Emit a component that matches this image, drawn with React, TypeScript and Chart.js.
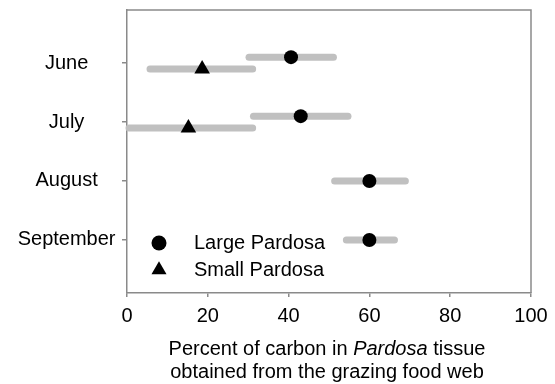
import React, { useEffect, useRef } from 'react';
import { Chart, registerables } from 'chart.js';

Chart.register(...registerables);

// ---- data ----
const MONTHS = ['June', 'July', 'August', 'September'];
const LARGE_MEAN = [40.6, 43.0, 60.0, 60.0];
const LARGE_LOW = [30.2, 31.3, 51.4, 54.3];
const LARGE_HIGH = [51.1, 54.7, 68.9, 66.2];
const SMALL_MEAN: (number | null)[] = [18.6, 15.2, null, null];
const SMALL_LOW: (number | null)[] = [5.7, 0.5, null, null];
const SMALL_HIGH: (number | null)[] = [31.1, 31.1, null, null];
const X_TICKS = [0, 20, 40, 60, 80, 100];
const SERIES_NAMES = ['Large Pardosa', 'Small Pardosa'];

const FONT = "'Liberation Sans', Arial, sans-serif";
const BAR_COLOR = '#c0c0c0';
const FRAME_COLOR = '#8a8a8a';
const OFF = 0.1;

export default function App() {
  const ref = useRef<HTMLCanvasElement>(null);

  useEffect(() => {
    const canvas = ref.current!;
    const largeY = (i: number) => i + 1 + (SMALL_MEAN[i] != null ? -OFF : 0);
    const smallY = (i: number) => i + 1 + OFF;

    const datasets: any[] = [];
    datasets.push({
      label: SERIES_NAMES[0],
      data: LARGE_MEAN.map((v, i) => ({ x: v, y: largeY(i) })),
      pointStyle: 'circle',
      pointRadius: 7,
      pointBorderWidth: 0,
      backgroundColor: '#000',
      borderColor: '#000',
      showLine: false,
      order: 0,
      clip: false,
    });
    const smallPts: any[] = [];
    SMALL_MEAN.forEach((v, i) => {
      if (v != null) smallPts.push({ x: v, y: smallY(i) });
    });
    datasets.push({
      label: SERIES_NAMES[1],
      data: smallPts,
      pointStyle: 'triangle',
      pointRadius: 9,
      pointBorderWidth: 0,
      backgroundColor: '#000',
      borderColor: '#000',
      showLine: false,
      order: 0,
      clip: false,
    });
    LARGE_LOW.forEach((lo, i) => {
      datasets.push({
        label: 'range-large-' + i,
        data: [
          { x: lo, y: largeY(i) },
          { x: LARGE_HIGH[i], y: largeY(i) },
        ],
        showLine: true,
        borderColor: BAR_COLOR,
        borderWidth: 7,
        borderCapStyle: 'round',
        pointRadius: 0,
        order: 1,
        clip: false,
      });
    });
    SMALL_LOW.forEach((lo, i) => {
      const hi = SMALL_HIGH[i];
      if (lo == null || hi == null) return;
      datasets.push({
        label: 'range-small-' + i,
        data: [
          { x: lo, y: smallY(i) },
          { x: hi, y: smallY(i) },
        ],
        showLine: true,
        borderColor: BAR_COLOR,
        borderWidth: 7,
        borderCapStyle: 'round',
        pointRadius: 0,
        order: 1,
        clip: false,
      });
    });

    const decor = {
      id: 'decor',
      afterDraw(chart: any) {
        const { ctx, chartArea } = chart;
        const { left, right, top, bottom } = chartArea;
        ctx.save();
        // top and right frame
        ctx.strokeStyle = FRAME_COLOR;
        ctx.lineWidth = 1.5;
        ctx.beginPath();
        ctx.moveTo(left, top);
        ctx.lineTo(right, top);
        ctx.lineTo(right, bottom);
        ctx.stroke();

        // legend
        const lx = left + 32;
        const tx = left + 67;
        ctx.fillStyle = '#000';
        ctx.beginPath();
        ctx.arc(lx, 243, 7.5, 0, Math.PI * 2);
        ctx.fill();
        const r = 8.7;
        const cy = 270;
        ctx.beginPath();
        ctx.moveTo(lx, cy - r);
        ctx.lineTo(lx + r * Math.sin((2 * Math.PI) / 3), cy + r * 0.5);
        ctx.lineTo(lx - r * Math.sin((2 * Math.PI) / 3), cy + r * 0.5);
        ctx.closePath();
        ctx.fill();
        ctx.font = `20px ${FONT}`;
        ctx.textAlign = 'left';
        ctx.textBaseline = 'alphabetic';
        ctx.fillText(SERIES_NAMES[0], tx, 249);
        ctx.fillText(SERIES_NAMES[1], tx, 275.5);

        // axis title
        const cx = (left + right) / 2 - 2;
        const normal = `20px ${FONT}`;
        const italic = `italic 20px ${FONT}`;
        const parts: [string, string][] = [
          ['Percent of carbon in ', normal],
          ['Pardosa', italic],
          [' tissue', normal],
        ];
        let total = 0;
        parts.forEach(([t, f]) => {
          ctx.font = f;
          total += ctx.measureText(t).width;
        });
        let x = cx - total / 2;
        parts.forEach(([t, f]) => {
          ctx.font = f;
          ctx.fillText(t, x, 355);
          x += ctx.measureText(t).width;
        });
        ctx.font = normal;
        ctx.textAlign = 'center';
        ctx.fillText('obtained from the grazing food web', cx, 378);
        ctx.restore();
      },
    };

    const zeroPad = (scale: any) => {
      scale.paddingTop = 0;
      scale.paddingBottom = 0;
      scale.paddingLeft = 0;
      scale.paddingRight = 0;
    };

    const chart = new Chart(canvas, {
      type: 'scatter',
      data: { datasets },
      options: {
        animation: false,
        responsive: false,
        events: [],
        layout: { padding: { top: 10, right: 24, left: 0, bottom: 0 } },
        plugins: {
          legend: { display: false },
          tooltip: { enabled: false },
        },
        scales: {
          x: {
            type: 'linear',
            min: 0,
            max: 100,
            afterBuildTicks: (scale: any) => {
              scale.ticks = X_TICKS.map((v) => ({ value: v }));
            },
            afterFit: (scale: any) => {
              scale.height = 91;
              zeroPad(scale);
            },
            ticks: {
              color: '#000',
              font: { family: FONT, size: 20 },
              padding: 7,
              maxRotation: 0,
            },
            grid: {
              drawOnChartArea: false,
              drawTicks: true,
              tickLength: 4,
              color: FRAME_COLOR,
              lineWidth: 1.5,
            },
            border: { display: true, color: FRAME_COLOR, width: 1.5 },
          },
          y: {
            type: 'linear',
            min: 0.1,
            max: 4.9,
            reverse: true,
            afterBuildTicks: (scale: any) => {
              scale.ticks = MONTHS.map((_, i) => ({ value: i + 1 }));
            },
            afterFit: (scale: any) => {
              scale.width = 127;
              zeroPad(scale);
            },
            ticks: {
              color: '#000',
              font: { family: FONT, size: 20 },
              padding: 6.5,
              crossAlign: 'center',
              callback: (v: any) => MONTHS[Math.round(Number(v)) - 1] ?? '',
            },
            grid: {
              drawOnChartArea: false,
              drawTicks: true,
              tickLength: 5,
              color: FRAME_COLOR,
              lineWidth: 1.5,
            },
            border: { display: true, color: FRAME_COLOR, width: 1.5 },
          },
        },
      },
      plugins: [decor],
    } as any);

    return () => chart.destroy();
  }, []);

  return (
    <div style={{ position: 'absolute', left: 0, top: 0, width: 555, height: 384, background: '#fff' }}>
      <canvas ref={ref} width={555} height={384} style={{ width: 555, height: 384, display: 'block' }} />
    </div>
  );
}
